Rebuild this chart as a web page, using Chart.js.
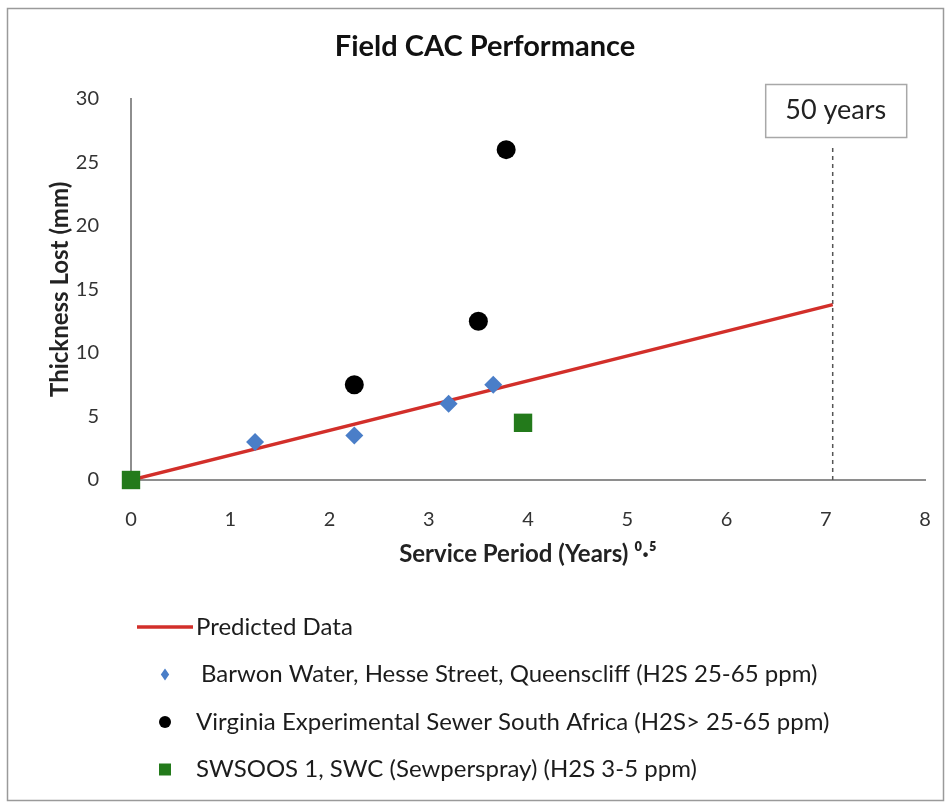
<!DOCTYPE html>
<html>
<head>
<meta charset="utf-8">
<script src="https://cdn.jsdelivr.net/npm/chart.js@4/dist/chart.umd.min.js"></script>
<style>
  html, body { margin: 0; padding: 0; background: #fff; }
  #wrap { width: 952px; height: 804px; }
</style>
</head>
<body>
<div id="wrap"><canvas id="cacChart" width="952" height="804"></canvas></div>
<script>
// --- data ---
const predictedX = [0, 7.07];
const predictedY = [0, 13.8];
const barwonX = [1.25, 2.25, 3.2, 3.65];
const barwonY = [3.0, 3.5, 6.0, 7.5];
const virginiaX = [2.25, 3.5, 3.78];
const virginiaY = [7.5, 12.5, 26];
const swsoosX = [0, 3.95];
const swsoosY = [0, 4.5];
const fiftyX = [7.07, 7.07];      // sqrt(50) on the axis
const fiftyY = [0, 26.3];
const xTicks = [0, 1, 2, 3, 4, 5, 6, 7, 8];
const yTicks = [0, 5, 10, 15, 20, 25, 30];

const FONT = "Lato, 'Open Sans', sans-serif";

function pts(xs, ys) {
    return xs.map((x, i) => ({ x: x, y: ys[i] }));
}

// frame round the whole picture
const framePlugin = {
    id: 'frame',
    beforeDraw(chart) {
        const ctx = chart.ctx;
        ctx.save();
        ctx.fillStyle = '#fff';
        ctx.fillRect(0, 0, chart.width, chart.height);
        ctx.strokeStyle = '#9a9a9a';
        ctx.lineWidth = 1.5;
        ctx.strokeRect(7.5, 8.5, 936, 792);
        ctx.restore();
    }
};

// "50 years" box above the dashed line
const boxPlugin = {
    id: 'fiftyBox',
    afterDatasetsDraw(chart) {
        const ctx = chart.ctx;
        const cx = chart.scales.x.getPixelForValue(fiftyX[0]) + 3;
        const w = 141, h = 53, top = 84;
        ctx.save();
        ctx.fillStyle = '#fff';
        ctx.fillRect(cx - w / 2, top, w, h);
        ctx.strokeStyle = '#a8a8a8';
        ctx.lineWidth = 1.5;
        ctx.strokeRect(cx - w / 2 + 0.5, top + 0.5, w, h);
        ctx.fillStyle = '#222';
        ctx.font = '27px ' + FONT;
        ctx.textAlign = 'center';
        ctx.textBaseline = 'middle';
        ctx.fillText('50 years', cx, top + h / 2);
        ctx.restore();
    }
};

// vertical legend under the plot, left aligned
function drawMarker(ctx, style, x, y, r, color) {
    ctx.fillStyle = color;
    ctx.beginPath();
    if (style === 'circle') {
        ctx.arc(x, y, r, 0, Math.PI * 2);
    } else if (style === 'rectRot') {
        ctx.moveTo(x, y - r); ctx.lineTo(x + r * 0.7, y); ctx.lineTo(x, y + r); ctx.lineTo(x - r * 0.7, y);
        ctx.closePath();
    } else {
        ctx.rect(x - r, y - r, 2 * r, 2 * r);
    }
    ctx.fill();
}

const legendPlugin = {
    id: 'sideLegend',
    afterDraw(chart) {
        const ctx = chart.ctx;
        let y = 627;
        ctx.save();
        ctx.font = '24px ' + FONT;
        ctx.textBaseline = 'middle';
        chart.data.datasets.forEach(ds => {
            if (ds.noLegend) return;
            if (ds.showLine) {
                ctx.strokeStyle = ds.borderColor;
                ctx.lineWidth = 3.5;
                ctx.beginPath();
                ctx.moveTo(137, y); ctx.lineTo(193, y);
                ctx.stroke();
                ctx.fillStyle = '#1c1c1c';
                ctx.fillText(ds.label, 196, y);
            } else {
                drawMarker(ctx, ds.pointStyle, 165, y, ds.legendRadius, ds.backgroundColor);
                ctx.fillStyle = '#1c1c1c';
                ctx.fillText(ds.label, ds.legendTextX, y);
            }
            y += 47.5;
        });
        ctx.restore();
    }
};

const ctx = document.getElementById('cacChart').getContext('2d');
const cacChart = new Chart(ctx, {
    type: 'scatter',
    data: {
        datasets: [
            {
                label: 'Predicted Data',
                data: pts(predictedX, predictedY),
                showLine: true,
                borderColor: '#d22f2a',
                borderWidth: 3.5,
                pointRadius: 0,
                order: 5
            },
            {
                label: 'Barwon Water, Hesse Street, Queenscliff (H2S 25-65 ppm)',
                data: pts(barwonX, barwonY),
                pointStyle: 'rectRot',
                pointRadius: 9,
                backgroundColor: '#4a7ec8',
                borderColor: '#4a7ec8',
                borderWidth: 0,
                clip: false,
                legendRadius: 6,
                legendTextX: 201,
                order: 2
            },
            {
                label: 'Virginia Experimental Sewer South Africa (H2S> 25-65 ppm)',
                data: pts(virginiaX, virginiaY),
                pointStyle: 'circle',
                pointRadius: 9.5,
                backgroundColor: '#000',
                borderColor: '#000',
                borderWidth: 0,
                clip: false,
                legendRadius: 6,
                legendTextX: 196,
                order: 3
            },
            {
                label: 'SWSOOS 1, SWC (Sewperspray) (H2S 3-5 ppm)',
                data: pts(swsoosX, swsoosY),
                pointStyle: 'rect',
                pointRadius: 13,
                backgroundColor: '#237a1b',
                borderColor: '#237a1b',
                borderWidth: 0,
                clip: false,
                legendRadius: 6,
                legendTextX: 196,
                order: 1
            },
            {
                label: '50 years',
                data: pts(fiftyX, fiftyY),
                showLine: true,
                borderColor: '#555',
                borderWidth: 1.5,
                borderDash: [4, 4],
                pointRadius: 0,
                noLegend: true,
                order: 6
            }
        ]
    },
    options: {
        responsive: false,
        animation: false,
        events: [],
        layout: { padding: { left: 45, right: 27, top: 0, bottom: 234 } },
        plugins: {
            legend: { display: false },
            tooltip: { enabled: false },
            title: {
                display: true,
                text: 'Field CAC Performance',
                color: '#111',
                font: { family: FONT, size: 29, weight: 'bold' },
                padding: { top: 29, bottom: 35 }
            }
        },
        scales: {
            x: {
                type: 'linear',
                min: 0, max: 8,
                afterBuildTicks: axis => { axis.ticks = xTicks.map(v => ({ value: v })); },
                afterFit: axis => { axis.height = 90; },
                grid: { display: false },
                border: { display: true, color: '#8e8e8e', width: 2 },
                ticks: { color: '#333', padding: 20, font: { family: FONT, size: 20 } },
                title: {
                    display: true,
                    text: 'Service Period (Years) \u2070\u00b7\u2075',
                    color: '#222',
                    font: { family: FONT, size: 24, weight: 'bold' },
                    padding: { top: 0, bottom: 1 }
                }
            },
            y: {
                type: 'linear',
                min: 0, max: 30,
                afterBuildTicks: axis => { axis.ticks = yTicks.map(v => ({ value: v })); },
                afterFit: axis => { axis.width = 86; },
                grid: { display: false },
                border: { display: true, color: '#8e8e8e', width: 2 },
                ticks: { color: '#333', padding: 24, font: { family: FONT, size: 20 } },
                title: {
                    display: true,
                    text: 'Thickness Lost (mm)',
                    color: '#222',
                    font: { family: FONT, size: 24, weight: 'bold' },
                    padding: { top: 1, bottom: 0 }
                }
            }
        }
    },
    plugins: [framePlugin, boxPlugin, legendPlugin]
});
</script>
</body>
</html>
